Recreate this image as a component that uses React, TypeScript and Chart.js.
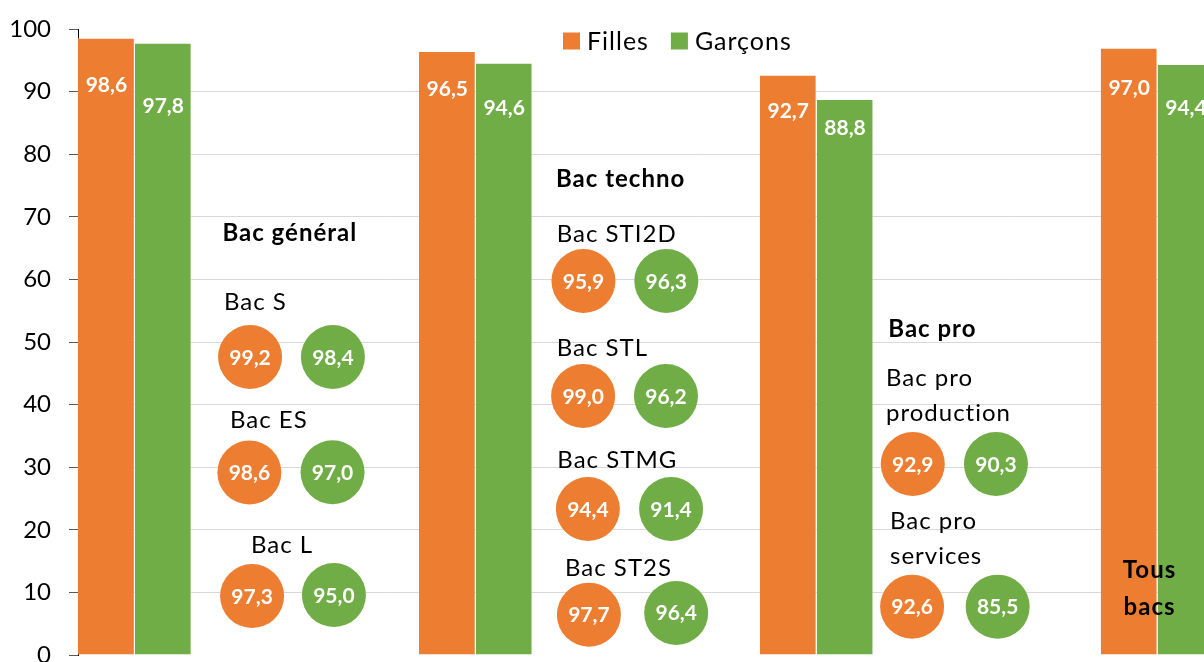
import React, { useEffect, useRef } from "react";
import { Chart, registerables } from "chart.js";

Chart.register(...registerables);

// ---- data ----
const groups = ["Bac général", "Bac techno", "Bac pro", "Tous\nbacs"];
const seriesNames = ["Filles", "Garçons"];
const filles = [98.6, 96.5, 92.7, 97.0];
const garcons = [97.8, 94.6, 88.8, 94.4];
const yTickStep = 10;
const yMin = 0;
const yMax = 100;

const subLabels = [
  "Bac S",
  "Bac ES",
  "Bac L",
  "Bac STI2D",
  "Bac STL",
  "Bac STMG",
  "Bac ST2S",
  "Bac pro\nproduction",
  "Bac pro\nservices",
];
const subFilles = [99.2, 98.6, 97.3, 95.9, 99.0, 94.4, 97.7, 92.9, 92.6];
const subGarcons = [98.4, 97.0, 95.0, 96.3, 96.2, 91.4, 96.4, 90.3, 85.5];

// ---- layout (scale units: x = group index, y = axis value) ----
const headingX = [0.257, 1.2355, 2.2102, 2.9765];
const headingY = [66.13, 74.71, 50.75, 12.25];
const headingAlign = ["left", "left", "left", "center"];
const subLabelX = [0.2616, 0.2792, 0.3408, 1.2375, 1.2375, 1.2394, 1.2619, 2.2035, 2.2152];
const subLabelY = [55.11, 36.31, 16.34, 66.02, 47.76, 29.82, 12.62, 42.97, 20.08];
const circleXF = [0.338, 0.336, 0.344, 1.316, 1.315, 1.329, 1.332, 2.282, 2.28];
const circleXG = [0.581, 0.58, 0.584, 1.559, 1.558, 1.573, 1.588, 2.526, 2.531];
const circleYF = [47.6, 29.15, 9.42, 59.74, 41.37, 23.32, 6.44, 30.51, 7.72];
const circleYG = [47.6, 29.2, 9.58, 59.74, 41.37, 23.32, 6.71, 30.51, 7.72];
const barLabelYF = [89.89, 89.3, 85.83, 89.46];
const barLabelYG = [86.53, 86.26, 83.07, 86.26];

const ORANGE = "#ED7D31";
const GREEN = "#70AD47";
const FONT = "Lato";

const fmt = (v: number) => v.toFixed(1).replace(".", ",");

const overlayPlugin = {
  id: "overlay",
  afterDatasetsDraw(chart: any) {
    const ctx: CanvasRenderingContext2D = chart.ctx;
    const xs = chart.scales.x;
    const ys = chart.scales.y;
    ctx.save();

    // bar value labels
    ctx.font = `bold 21px ${FONT}`;
    ctx.fillStyle = "#ffffff";
    ctx.textAlign = "center";
    ctx.textBaseline = "alphabetic";
    const metaF = chart.getDatasetMeta(0);
    const metaG = chart.getDatasetMeta(1);
    metaF.data.forEach((bar: any, i: number) => {
      ctx.fillText(fmt(filles[i]), bar.x, ys.getPixelForValue(barLabelYF[i]));
    });
    metaG.data.forEach((bar: any, i: number) => {
      ctx.fillText(fmt(garcons[i]), bar.x, ys.getPixelForValue(barLabelYG[i]));
    });

    // circles
    const R = 32;
    const drawCircle = (cx: number, cy: number, color: string, v: number) => {
      ctx.beginPath();
      ctx.arc(cx, cy, R, 0, Math.PI * 2);
      ctx.fillStyle = color;
      ctx.fill();
      ctx.fillStyle = "#ffffff";
      ctx.font = `bold 21px ${FONT}`;
      ctx.textAlign = "center";
      ctx.textBaseline = "alphabetic";
      ctx.fillText(fmt(v), cx, cy + 7.5);
    };
    subLabels.forEach((_, i) => {
      drawCircle(xs.getPixelForValue(circleXF[i]), ys.getPixelForValue(circleYF[i]), ORANGE, subFilles[i]);
      drawCircle(xs.getPixelForValue(circleXG[i]), ys.getPixelForValue(circleYG[i]), GREEN, subGarcons[i]);
    });

    // texts
    const LH = 35;
    (ctx as any).letterSpacing = "1px";
    ctx.fillStyle = "#000000";
    ctx.textBaseline = "alphabetic";
    ctx.font = `24px ${FONT}`;
    ctx.textAlign = "left";
    subLabels.forEach((lab, i) => {
      const px = xs.getPixelForValue(subLabelX[i]);
      const py = ys.getPixelForValue(subLabelY[i]);
      lab.split("\n").forEach((line, k) => ctx.fillText(line, px, py + k * LH));
    });
    ctx.font = `bold 24px ${FONT}`;
    groups.forEach((g, i) => {
      ctx.textAlign = headingAlign[i] as CanvasTextAlign;
      const px = xs.getPixelForValue(headingX[i]);
      const py = ys.getPixelForValue(headingY[i]);
      g.split("\n").forEach((line, k) => ctx.fillText(line, px, py + k * 36.7));
    });
    ctx.restore();
  },
  afterDraw(chart: any) {
    const ctx: CanvasRenderingContext2D = chart.ctx;
    const area = chart.chartArea;
    ctx.save();
    ctx.font = `25px ${FONT}`;
    (ctx as any).letterSpacing = "1px";
    ctx.textBaseline = "middle";
    ctx.textAlign = "left";
    let x = area.left + 485;
    const top = area.top + 3.5;
    chart.data.datasets.forEach((ds: any) => {
      ctx.fillStyle = ds.backgroundColor;
      ctx.fillRect(x, top, 17, 17);
      ctx.fillStyle = "#000000";
      ctx.fillText(ds.label, x + 24, top + 9);
      x += 24 + ctx.measureText(ds.label).width + 22;
    });
    ctx.restore();
  },
};

export default function App() {
  const ref = useRef<HTMLCanvasElement>(null);
  useEffect(() => {
    if (!ref.current) return;
    const border = { top: 1, right: 1, left: 0, bottom: 0 };
    const chart = new Chart(ref.current, {
      type: "bar",
      data: {
        datasets: [
          {
            label: seriesNames[0],
            data: filles.map((v, i) => ({ x: i, y: v })),
            backgroundColor: ORANGE,
            borderColor: "rgba(255,255,255,0.55)",
            borderWidth: border,
            categoryPercentage: 1 / 3,
            barPercentage: 1,
          },
          {
            label: seriesNames[1],
            data: garcons.map((v, i) => ({ x: i, y: v })),
            backgroundColor: GREEN,
            borderColor: "rgba(255,255,255,0.55)",
            borderWidth: border,
            categoryPercentage: 1 / 3,
            barPercentage: 1,
          },
        ],
      } as any,
      options: {
        responsive: false,
        animation: false,
        devicePixelRatio: 1,
        layout: { padding: { top: 0, bottom: 0, left: 0, right: 0 } },
        plugins: { legend: { display: false }, tooltip: { enabled: false } },
        events: [],
        scales: {
          x: {
            type: "linear",
            display: false,
            min: -1 / 6,
            max: 3.5,
            offset: false,
            ticks: { stepSize: 1, includeBounds: false },
            grid: { display: false },
          },
          y: {
            min: yMin,
            max: yMax,
            ticks: {
              stepSize: yTickStep,
              font: { family: FONT, size: 24, lineHeight: 1 },
              color: "#000000",
              padding: 18,
            },
            grid: {
              color: (c: any) =>
                c.tick && (c.tick.value === yMin || c.tick.value === yMax) ? "rgba(0,0,0,0)" : "#d9d9d9",
              tickColor: "#595959",
              tickLength: 9,
              lineWidth: 1,
            },
            border: { display: true, color: "#000000", width: 1 },
            afterFit: (s: any) => {
              s.width = 78;
            },
          },
        },
      } as any,
      plugins: [overlayPlugin],
    });
    return () => chart.destroy();
  }, []);
  return (
    <div
      style={{
        position: "fixed",
        left: 0,
        top: 0,
        width: "100vw",
        height: "100vh",
        overflow: "hidden",
        background: "#ffffff",
      }}
    >
      <canvas ref={ref} width={1328} height={686} style={{ display: "block", marginTop: -1 }} />
    </div>
  );
}
